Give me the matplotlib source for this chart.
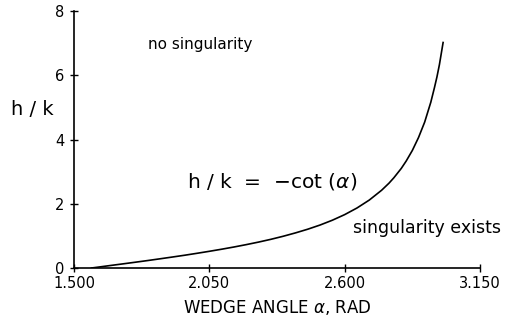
import matplotlib.pyplot as plt

# wedge angle (rad) and the matching h/k values along the curve
alpha = [1.571, 1.60, 1.65, 1.70, 1.75, 1.80, 1.85, 1.90, 1.95, 2.00, 2.05, 2.10,
         2.15, 2.20, 2.25, 2.30, 2.35, 2.40, 2.45, 2.50, 2.55, 2.60, 2.65, 2.70,
         2.75, 2.78, 2.80, 2.83, 2.85, 2.875, 2.90, 2.925, 2.95, 2.965, 2.975,
         2.985, 3.00]
hk = [0.0, 0.029, 0.080, 0.130, 0.181, 0.233, 0.287, 0.342, 0.398, 0.458, 0.520,
      0.585, 0.654, 0.728, 0.807, 0.893, 0.988, 1.093, 1.208, 1.338, 1.488, 1.662,
      1.868, 2.115, 2.420, 2.640, 2.810, 3.100, 3.330, 3.660, 4.060, 4.540, 5.160,
      5.620, 5.950, 6.330, 7.020]

xticks = [1.500, 2.050, 2.600, 3.150]
yticks = [0, 2, 4, 6, 8]

plt.rcParams['font.family'] = 'DejaVu Sans'

fig = plt.figure(figsize=(5.13, 3.24), dpi=100)
ax = fig.add_axes([0.1442, 0.1728, 0.7915, 0.7932])

ax.plot(alpha, hk, color='black', lw=1.2)

ax.set_xlim(1.5, 3.15)
ax.set_ylim(0, 8)
ax.set_xticks(xticks)
ax.set_xticklabels(['%.3f' % t for t in xticks])
ax.set_yticks(yticks)
ax.tick_params(direction='inout', length=6, width=1, labelsize=10.5)
ax.tick_params(axis='x', pad=3)
ax.tick_params(axis='y', pad=4)

# plain axes, no box
ax.spines['top'].set_visible(False)
ax.spines['right'].set_visible(False)
ax.spines['left'].set_linewidth(1.2)
ax.spines['bottom'].set_linewidth(1.2)

ax.set_xlabel(r'WEDGE ANGLE $\alpha$, RAD', fontsize=12, labelpad=5)
ax.text(-0.102, 0.615, 'h / k', transform=ax.transAxes, fontsize=14,
        ha='center', va='center')

ax.text(2.011, 6.95, 'no singularity', fontsize=11, ha='center', va='center')
ax.text(2.933, 1.25, 'singularity exists', fontsize=12.5, ha='center', va='center')
ax.text(2.304, 2.68, r'h / k  =  $-$cot ($\alpha$)', fontsize=14.5,
        ha='center', va='center')

fig.savefig('out.png', dpi=100)
